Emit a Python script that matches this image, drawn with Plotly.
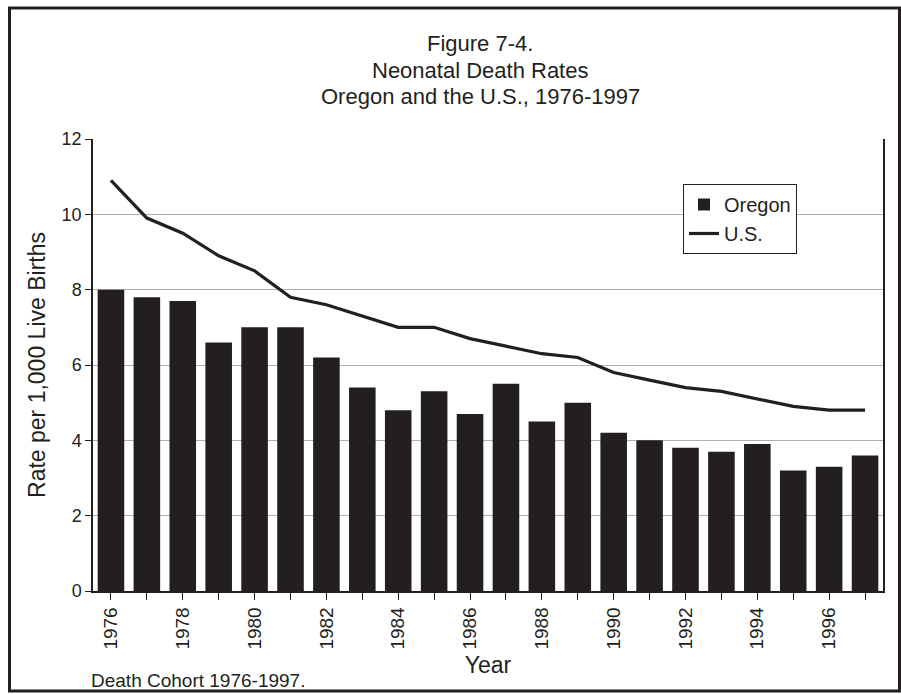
import plotly.graph_objects as go

years = list(range(1976, 1998))
oregon = [8.0, 7.8, 7.7, 6.6, 7.0, 7.0, 6.2, 5.4, 4.8, 5.3, 4.7,
          5.5, 4.5, 5.0, 4.2, 4.0, 3.8, 3.7, 3.9, 3.2, 3.3, 3.6]
us = [10.9, 9.9, 9.5, 8.9, 8.5, 7.8, 7.6, 7.3, 7.0, 7.0, 6.7,
      6.5, 6.3, 6.2, 5.8, 5.6, 5.4, 5.3, 5.1, 4.9, 4.8, 4.8]
tick_years = list(range(1976, 1998, 2))
title_lines = ["Figure 7-4.", "Neonatal Death Rates", "Oregon and the U.S., 1976-1997"]

ink = "#231f20"
W, H = 901, 694
L, R, T, B = 93, 18, 139, 103
pw, ph = W - L - R, H - T - B


def px(x):
    return (x - L) / pw


def py(y):
    return (H - B - y) / ph


fig = go.Figure()
fig.add_trace(go.Bar(x=years, y=oregon, name="Oregon", marker_color=ink,
                     marker_line_width=0))
fig.add_trace(go.Scatter(x=years, y=us, name="U.S.", mode="lines",
                         line=dict(color=ink, width=3.2)))

notes = [dict(text=t, xref="paper", yref="paper", x=px(480), y=py(44 + 26.5 * i),
              xanchor="center", yanchor="middle", showarrow=False, font=dict(size=22))
         for i, t in enumerate(title_lines)]
notes.append(dict(text="Death Cohort 1976-1997.", xref="paper", yref="paper",
                  x=px(89), y=py(680), xanchor="left", yanchor="middle",
                  showarrow=False, font=dict(size=19)))

fig.update_layout(
    width=W, height=H,
    margin=dict(l=L, r=R, t=T, b=B),
    paper_bgcolor="white", plot_bgcolor="white",
    font=dict(family="Liberation Sans, Arial, sans-serif", color=ink, size=17),
    bargap=0.26,
    showlegend=True,
    legend=dict(x=px(683), y=py(184), xanchor="left", yanchor="top",
                bordercolor=ink, borderwidth=1, bgcolor="white",
                font=dict(size=20), itemwidth=30),
    annotations=notes,
    shapes=[
        dict(type="rect", xref="paper", yref="paper",
             x0=px(9.5), x1=px(899.5), y0=py(8), y1=py(691),
             line=dict(color=ink, width=3), fillcolor="rgba(0,0,0,0)", layer="above"),
    ],
)

fig.update_xaxes(
    range=[1975.5, 1997.5], tickmode="array", tickvals=tick_years,
    ticktext=[str(y) for y in tick_years], tickangle=-90,
    ticks="outside", ticklen=7, tickcolor=ink, tickfont=dict(size=19),
    showline=True, linecolor=ink, linewidth=1.5, showgrid=False,
    title=dict(text="Year", font=dict(size=23), standoff=8),
    minor=dict(ticks="outside", dtick=1, ticklen=7, tickcolor=ink, tick0=1977),
)
fig.update_yaxes(
    range=[0, 12], dtick=2, ticks="outside", ticklen=6, tickcolor=ink,
    tickfont=dict(size=18), showline=True, linecolor=ink, linewidth=1.5, mirror=True,
    showgrid=True, gridcolor="#b0b0b0", gridwidth=1, zeroline=False,
    title=dict(text="Rate per 1,000 Live Births", font=dict(size=23), standoff=10),
)

fig.write_html("out.html", config={"displayModeBar": False},
               post_script="document.body.style.margin='0px';")
